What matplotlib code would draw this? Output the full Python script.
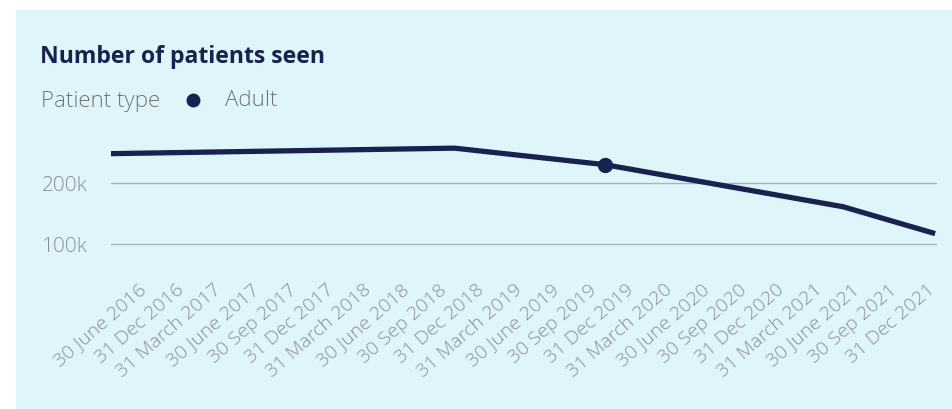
import matplotlib.pyplot as plt
from matplotlib.transforms import ScaledTranslation

# Quarter labels on the category axis
quarters = ['30 June 2016', '31 Dec 2016', '31 March 2017', '30 June 2017',
            '30 Sep 2017', '31 Dec 2017', '31 March 2018', '30 June 2018',
            '30 Sep 2018', '31 Dec 2018', '31 March 2019', '30 June 2019',
            '30 Sep 2019', '31 Dec 2019', '31 March 2020', '30 June 2020',
            '30 Sep 2020', '31 Dec 2020', '31 March 2021', '30 June 2021',
            '30 Sep 2021', '31 Dec 2021']

# Line vertices (position in category units, patients)
line_pos = [-0.5, 8.65, 12.65, 19.0, 21.45]
adult_patients = [248000, 257000, 230000, 161000, 117000]
highlight_idx = 2

y_ticks = [100000, 200000]
y_tick_labels = ['100k', '200k']

bg = '#E0F5FA'
navy = '#18224F'
grey_txt = '#8A9096'
grid_col = '#A3B3CB'

W, H = 953, 410
fig = plt.figure(figsize=(W / 100, H / 100), dpi=100)
fig.patch.set_facecolor('white')

# light panel behind everything
bg_ax = fig.add_axes([16 / W, 0, 1 - 16 / W, 1 - 11 / H], zorder=-5)
bg_ax.axis('off')
bg_ax.add_patch(plt.Rectangle((0, 0), 1, 1, transform=bg_ax.transAxes,
                              facecolor=bg, edgecolor='none'))

ax = fig.add_axes([111 / W, 1 - 255 / H, 826 / W, 115 / H], zorder=1)
ax.set_facecolor('none')

ax.plot(line_pos, adult_patients, color=navy, linewidth=3.8,
        solid_capstyle='butt', solid_joinstyle='round', zorder=3)
ax.plot(line_pos[highlight_idx], adult_patients[highlight_idx], 'o',
        color=navy, markersize=10, zorder=4)

ax.set_xlim(-0.5, 21.5)
ax.set_ylim(83600, 272000)

ax.tick_params(axis='both', length=0)
ax.tick_params(axis='y', pad=17)
for s in ax.spines.values():
    s.set_visible(False)

ax.set_yticks(y_ticks)
ax.set_yticklabels(y_tick_labels, fontsize=15, color=grey_txt,
                   fontfamily='Open Sans', fontweight='light')
ax.yaxis.grid(True, color=grid_col, linewidth=1.0)
ax.set_axisbelow(True)

ax.set_xticks(range(len(quarters)))
ax.set_xticklabels(quarters, rotation=41, ha='right', va='top',
                   rotation_mode='anchor', fontsize=14, color=grey_txt,
                   fontfamily='Open Sans', fontweight='light')
# nudge the rotated labels (after tick_params, which resets transforms)
shift = ScaledTranslation(8 / 100, -21 / 100, fig.dpi_scale_trans)
for lab in ax.get_xticklabels():
    lab.set_transform(lab.get_transform() + shift)

# Title and legend
fig.text(40 / W, 1 - 57 / H, 'Number of patients seen', fontsize=16.6,
         fontweight='bold', color=navy, fontfamily='Open Sans', va='center')
fig.text(41 / W, 1 - 101 / H, 'Patient type', fontsize=16,
         fontweight='light', color='#6E7479', fontfamily='Open Sans',
         va='center')
fig.lines.append(plt.Line2D([193 / W], [1 - 101 / H], marker='o',
                            color=navy, markersize=9,
                            transform=fig.transFigure))
fig.text(225 / W, 1 - 101 / H, 'Adult', fontsize=16, fontweight='light',
         color='#6E7479', fontfamily='Open Sans', va='center')

plt.savefig('out.png', dpi=100, facecolor=fig.get_facecolor())
